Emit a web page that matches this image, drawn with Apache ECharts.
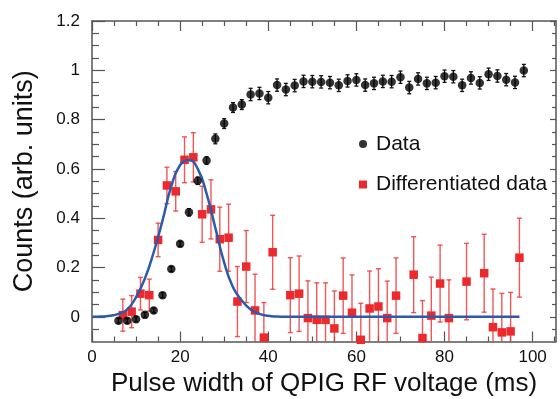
<!DOCTYPE html>
<html>
<head>
<meta charset="utf-8">
<script src="https://cdn.jsdelivr.net/npm/echarts@6/dist/echarts.min.js"></script>
<style>
html,body{margin:0;padding:0;background:#fff;}
#chart{width:560px;height:399px;}
</style>
</head>
<body>
<div id="chart"></div>
<script>
// ---- Data ----
const dataX = [6,8,10,12,14,16,18,20,22,24,26,28,30,32,34,36,38,40,42,44,46,48,50,52,54,56,58,60,62,64,66,68,70,72,74,76,78,80,82,84,86,88,90,92,94,96,98];
const dataY = [-0.016,-0.016,-0.010,0.008,0.026,0.088,0.194,0.296,0.424,0.552,0.634,0.722,0.784,0.849,0.861,0.902,0.906,0.889,0.940,0.922,0.938,0.955,0.954,0.953,0.950,0.939,0.957,0.961,0.940,0.947,0.955,0.954,0.972,0.930,0.965,0.947,0.950,0.976,0.974,0.939,0.969,0.949,0.984,0.977,0.962,0.951,0.999];
const dataErr = [0.010,0.010,0.010,0.010,0.010,0.010,0.010,0.010,0.015,0.015,0.015,0.020,0.020,0.020,0.020,0.025,0.025,0.025,0.025,0.025,0.025,0.025,0.025,0.025,0.025,0.025,0.025,0.025,0.025,0.025,0.025,0.025,0.025,0.025,0.025,0.025,0.025,0.025,0.025,0.025,0.025,0.025,0.025,0.025,0.025,0.025,0.025];

const diffX = [7,9,11,13,15,17,19,21,23,25,27,29,31,33,35,37,39,41,45,47,49,51,53,55,57,59,61,63,65,67,69,73,75,77,79,81,85,89,91,93,95,97];
const diffY = [0.007,0.021,0.094,0.088,0.312,0.533,0.509,0.637,0.647,0.416,0.436,0.315,0.321,0.062,0.204,0.026,-0.084,0.262,0.088,0.094,-0.005,-0.012,-0.012,-0.047,0.086,0.017,-0.093,0.034,0.042,-0.005,0.086,0.171,-0.086,0.005,0.135,-0.005,0.143,0.177,-0.042,-0.063,-0.059,0.240];
const diffErr = [0.065,0.065,0.066,0.065,0.068,0.074,0.080,0.093,0.100,0.114,0.120,0.130,0.136,0.142,0.146,0.147,0.142,0.150,0.152,0.153,0.151,0.150,0.150,0.152,0.153,0.153,0.148,0.152,0.153,0.150,0.153,0.154,0.152,0.156,0.156,0.155,0.155,0.158,0.155,0.158,0.158,0.160];

const fitX = [0,2,4,6,8,10,12,14,16,18,20,22,24,26,28,30,32,34,36,38,40,42,44,50,97];
const fitY = [0.000,0.001,0.004,0.012,0.030,0.080,0.155,0.262,0.390,0.530,0.616,0.636,0.600,0.500,0.360,0.220,0.120,0.066,0.030,0.012,0.004,0.001,0.000,0.000,0.000];

const xMajor = [0,20,40,60,80,100];
const xMinor = [5,10,15,25,30,35,45,50,55,65,70,75,85,90,95,105];
const yMajor = [0,0.2,0.4,0.6,0.8,1,1.2];
const yMinor = [-0.05,0.05,0.1,0.15,0.25,0.3,0.35,0.45,0.5,0.55,0.65,0.7,0.75,0.85,0.9,0.95,1.05,1.1,1.15];

const X_MIN = 0, X_MAX = 105.3, Y_MIN = -0.1, Y_MAX = 1.2;

// ---- build helpers ----
const axisColor = '#555';
const fontFam = '"Liberation Sans", Arial, sans-serif';

function xAx(pos, ticks, len, showLine, showLabel, extra) {
  return Object.assign({
    type: 'value', position: pos, min: X_MIN, max: X_MAX,
    axisLine: { show: showLine, onZero: false, lineStyle: { color: axisColor, width: 1.5 } },
    axisTick: { show: true, inside: true, length: len, customValues: ticks, lineStyle: { color: axisColor, width: 1.2 } },
    axisLabel: showLabel ? { show: true, customValues: ticks, color: '#111', fontSize: 17, fontFamily: fontFam, margin: 7 } : { show: false },
    splitLine: { show: false }
  }, extra || {});
}
function yAx(pos, ticks, len, showLine, showLabel, extra) {
  return Object.assign({
    type: 'value', position: pos, min: Y_MIN, max: Y_MAX,
    axisLine: { show: showLine, onZero: false, lineStyle: { color: axisColor, width: 1.5 } },
    axisTick: { show: true, inside: true, length: len, customValues: ticks, lineStyle: { color: axisColor, width: 1.2 } },
    axisLabel: showLabel ? { show: true, customValues: ticks, color: '#111', fontSize: 17, fontFamily: fontFam, margin: 12 } : { show: false },
    splitLine: { show: false }
  }, extra || {});
}

function errRender(color, capHalf, lw, opacity) {
  return function (params, api) {
    const x = api.value(0), lo = api.value(1), hi = api.value(2);
    const pt = api.coord([x, hi]);
    const pb = api.coord([x, lo]);
    const cs = params.coordSys;
    const top = cs.y, bot = cs.y + cs.height;
    let yt = pt[1], yb = pb[1];
    const children = [];
    const capT = yt >= top, capB = yb <= bot;
    yt = Math.max(top, Math.min(bot, yt));
    yb = Math.max(top, Math.min(bot, yb));
    const st = { stroke: color, lineWidth: lw, opacity: opacity };
    children.push({ type: 'line', shape: { x1: pt[0], y1: yt, x2: pt[0], y2: yb }, style: st });
    if (capT) children.push({ type: 'line', shape: { x1: pt[0] - capHalf, y1: yt, x2: pt[0] + capHalf, y2: yt }, style: st });
    if (capB) children.push({ type: 'line', shape: { x1: pt[0] - capHalf, y1: yb, x2: pt[0] + capHalf, y2: yb }, style: st });
    return { type: 'group', children: children };
  };
}

const dataPts = dataX.map((x, i) => [x, dataY[i]]);
const dataBars = dataX.map((x, i) => [x, dataY[i] - dataErr[i], dataY[i] + dataErr[i]]);
const diffPts = diffX.map((x, i) => [x, diffY[i]]);
const diffBars = diffX.map((x, i) => [x, diffY[i] - diffErr[i], diffY[i] + diffErr[i]]);
const fitPts = fitX.map((x, i) => [x, fitY[i]]);

const chart = echarts.init(document.getElementById('chart'), null, { renderer: 'canvas' });
chart.setOption({
  animation: false,
  backgroundColor: '#fff',
  textStyle: { fontFamily: fontFam },
  grid: { left: 92, right: 4, top: 21, bottom: 57.5, containLabel: false, outerBoundsMode: 'none' },
  xAxis: [
    xAx('bottom', xMajor, 10, true, true, {
      name: 'Pulse width of QPIG RF voltage (ms)', nameLocation: 'middle', nameGap: 28,
      nameTextStyle: { fontSize: 26, color: '#111', fontFamily: fontFam }
    }),
    xAx('bottom', xMinor, 5, false, false),
    xAx('top', xMajor, 10, true, false),
    xAx('top', xMinor, 5, false, false)
  ],
  yAxis: [
    yAx('left', yMajor, 13, true, true, {
      name: 'Counts (arb. units)', nameLocation: 'middle', nameGap: 54,
      nameTextStyle: { fontSize: 27, color: '#111', fontFamily: fontFam }
    }),
    yAx('left', yMinor, 7, false, false),
    yAx('right', yMajor, 6, true, false),
    yAx('right', yMinor, 4, false, false)
  ],
  legend: {
    orient: 'vertical', left: 359, top: 133.5, itemGap: 19.5, padding: 0,
    itemWidth: 8, itemHeight: 8, itemStyle: { borderWidth: 0 },
    textStyle: { fontSize: 21, lineHeight: 21, color: '#111', fontFamily: fontFam, padding: [0, 0, 0, 4] },
    data: [{ name: 'Data', icon: 'circle' }, { name: 'Differentiated data', icon: 'rect' }]
  },
  series: [
    {
      type: 'custom', name: 'diffErr', renderItem: errRender('#ee3a3a', 2.5, 1.4, 0.85),
      data: diffBars, encode: { x: 0, y: [1, 2] }, z: 2, silent: true
    },
    {
      type: 'scatter', name: 'Differentiated data', data: diffPts, symbol: 'rect', symbolSize: 8.5,
      itemStyle: { color: '#ec2a2d', opacity: 1 }, z: 3
    },
    {
      type: 'line', name: 'fit', data: fitPts, smooth: true, showSymbol: false, symbol: 'none',
      lineStyle: { color: '#2b5baa', width: 2.5 }, z: 4
    },
    {
      type: 'custom', name: 'dataErr', renderItem: errRender('#111', 2, 1.3, 1),
      data: dataBars, encode: { x: 0, y: [1, 2] }, z: 5, silent: true
    },
    {
      type: 'scatter', name: 'Data', data: dataPts, symbol: 'circle', symbolSize: 8.5,
      itemStyle: { color: '#000' }, z: 6
    }
  ]
});
</script>
</body>
</html>
